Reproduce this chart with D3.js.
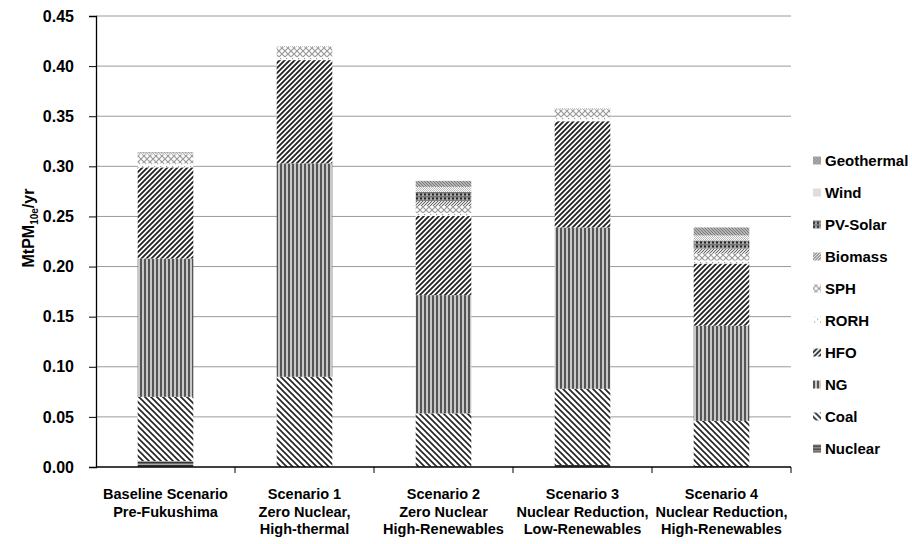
<!DOCTYPE html>
<html>
<head>
<meta charset="utf-8">
<script src="https://cdn.jsdelivr.net/npm/d3@7"></script>
<style>
  body { margin: 0; background: #fff; }
  text { font-family: "Liberation Sans", Arial, sans-serif; font-weight: bold; fill: #000; }
</style>
</head>
<body>
<div class="chart"></div>
<script>
// scenarios on the x axis (each label split in lines)
const scenarios = ["Baseline", "S1", "S2", "S3", "S4"];
const scenarioLabels = [
    ["Baseline Scenario", "Pre-Fukushima"],
    ["Scenario 1", "Zero Nuclear,", "High-thermal"],
    ["Scenario 2", "Zero Nuclear", "High-Renewables"],
    ["Scenario 3", "Nuclear Reduction,", "Low-Renewables"],
    ["Scenario 4", "Nuclear Reduction,", "High-Renewables"]
];

// stacked series, bottom to top (MtPM10e/yr per source)
const sources = ["Nuclear", "Coal", "NG", "HFO", "RORH", "SPH", "Biomass", "PV-Solar", "Wind", "Geothermal"];
const nuclear    = [0.006, 0.000, 0.0005, 0.002, 0.001];
const coal       = [0.064, 0.090, 0.053, 0.076, 0.045];
const ng         = [0.138, 0.213, 0.118, 0.161, 0.095];
const hfo        = [0.091, 0.103, 0.079, 0.106, 0.062];
const rorh       = [0.004, 0.003, 0.003, 0.004, 0.003];
const sph        = [0.009, 0.010, 0.007, 0.008, 0.007];
const biomass    = [0.000, 0.000, 0.005, 0.000, 0.005];
const pvSolar    = [0.000, 0.000, 0.009, 0.000, 0.008];
const wind       = [0.001, 0.001, 0.005, 0.001, 0.005];
const geothermal = [0.001, 0.000, 0.006, 0.000, 0.008];

const yTicks = [0, 0.05, 0.10, 0.15, 0.20, 0.25, 0.30, 0.35, 0.40, 0.45];

const seriesValues = [nuclear, coal, ng, hfo, rorh, sph, biomass, pvSolar, wind, geothermal];
const table = scenarios.map((s, i) => {
    const row = {scenario: s};
    sources.forEach((src, j) => row[src] = seriesValues[j][i]);
    return row;
});

const width = 912;
const height = 544;
const margin = {top: 16, right: 121, bottom: 77, left: 96};

const svg = d3.select(".chart")
    .append("svg")
    .attr("width", width)
    .attr("height", height);

// hatch patterns
const defs = svg.append("defs");
function pattern(id, size, draw, bg) {
    const p = defs.append("pattern")
        .attr("id", id)
        .attr("patternUnits", "userSpaceOnUse")
        .attr("width", size)
        .attr("height", size);
    p.append("rect").attr("width", size).attr("height", size).attr("fill", bg || "#fff");
    draw(p);
}
pattern("p-Nuclear", 3, p => {
    p.append("rect").attr("y", 0).attr("width", 3).attr("height", 1.5).attr("fill", "#333");
}, "#aaa");
pattern("p-Coal", 6, p => {
    p.append("path").attr("d", "M0,0 L6,6 M-3,3 L3,9 M3,-3 L9,3").attr("stroke", "#222").attr("stroke-width", 1.6);
});
pattern("p-NG", 4, p => {
    p.append("rect").attr("x", 0).attr("width", 2).attr("height", 4).attr("fill", "#555");
}, "#c8c8c8");
pattern("p-HFO", 5, p => {
    p.append("path").attr("d", "M0,5 L5,0 M-2.5,2.5 L2.5,-2.5 M2.5,7.5 L7.5,2.5").attr("stroke", "#222").attr("stroke-width", 1.8);
});
pattern("p-RORH", 6, p => {
    p.append("rect").attr("x", 1).attr("y", 1).attr("width", 1.2).attr("height", 1.2).attr("fill", "#999");
    p.append("rect").attr("x", 4).attr("y", 4).attr("width", 1.2).attr("height", 1.2).attr("fill", "#999");
});
pattern("p-SPH", 6, p => {
    p.append("path").attr("d", "M0,0 L6,6 M6,0 L0,6").attr("stroke", "#999").attr("stroke-width", 1.2);
});
pattern("p-Biomass", 3, p => {
    p.append("path").attr("d", "M0,3 L3,0 M-1.5,1.5 L1.5,-1.5 M1.5,4.5 L4.5,1.5").attr("stroke", "#666").attr("stroke-width", 1);
}, "#ddd");
pattern("p-PV-Solar", 4, p => {
    p.append("rect").attr("y", 0).attr("width", 4).attr("height", 1.5).attr("fill", "#777");
    p.append("rect").attr("x", 0).attr("y", 1.5).attr("width", 2).attr("height", 2).attr("fill", "#222");
}, "#aaa");
pattern("p-Wind", 2, p => {
    p.append("rect").attr("width", 1).attr("height", 1).attr("fill", "#bbb");
    p.append("rect").attr("x", 1).attr("y", 1).attr("width", 1).attr("height", 1).attr("fill", "#bbb");
});
pattern("p-Geothermal", 3, p => {
    p.append("path").attr("d", "M0,0 L3,3 M-1.5,1.5 L1.5,4.5 M1.5,-1.5 L4.5,1.5").attr("stroke", "#777").attr("stroke-width", 1.1);
}, "#ccc");

const x = d3.scaleBand()
    .domain(scenarios)
    .range([margin.left, width - margin.right])
    .paddingInner(0.6)
    .paddingOuter(0.3);

const y = d3.scaleLinear()
    .domain([0, 0.45])
    .range([height - margin.bottom, margin.top]);

// gridlines
svg.append("g")
    .selectAll("line")
    .data(yTicks.filter(d => d > 0))
    .join("line")
    .attr("x1", margin.left)
    .attr("x2", width - margin.right)
    .attr("y1", d => y(d))
    .attr("y2", d => y(d))
    .attr("stroke", "#9a9a9a")
    .attr("stroke-width", 1);

// stacked bars
const stack = d3.stack().keys(sources)(table);
svg.append("g")
    .selectAll("g")
    .data(stack)
    .join("g")
    .attr("fill", d => `url(#p-${d.key})`)
    .selectAll("rect")
    .data(d => d)
    .join("rect")
    .attr("x", d => x(d.data.scenario))
    .attr("width", x.bandwidth())
    .attr("y", d => y(d[1]))
    .attr("height", d => y(d[0]) - y(d[1]));

// y axis
const yAxis = svg.append("g")
    .attr("transform", `translate(${margin.left},0)`)
    .call(d3.axisLeft(y).tickValues(yTicks).tickFormat(d3.format(".2f")).tickSize(7).tickPadding(15));
yAxis.select(".domain").attr("stroke", "#000").attr("stroke-width", 1.3);
yAxis.selectAll(".tick line").attr("stroke", "#000");
yAxis.selectAll(".tick text").style("font-size", "16px").style("font-family", "Liberation Sans, Arial, sans-serif").style("font-weight", "bold");

// x axis: line + ticks at category boundaries
const x0 = margin.left;
const step = x.step();
svg.append("line")
    .attr("x1", margin.left).attr("x2", width - margin.right)
    .attr("y1", y(0)).attr("y2", y(0))
    .attr("stroke", "#000").attr("stroke-width", 1.3);
svg.append("g")
    .selectAll("line")
    .data(scenarios)
    .join("line")
    .attr("x1", (d, i) => x0 + step * (i + 1))
    .attr("x2", (d, i) => x0 + step * (i + 1))
    .attr("y1", y(0))
    .attr("y2", y(0) + 6)
    .attr("stroke", "#000");

// x labels
svg.append("g")
    .selectAll("text")
    .data(scenarios)
    .join("text")
    .attr("text-anchor", "middle")
    .style("font-size", "14.5px")
    .each(function(d, i) {
        const t = d3.select(this);
        scenarioLabels[i].forEach((line, k) => {
            t.append("tspan")
                .attr("x", x(d) + x.bandwidth() / 2)
                .attr("y", 499 + k * 17.5)
                .text(line);
        });
    });

// y title
const title = svg.append("text")
    .attr("transform", "translate(34,228) rotate(-90)")
    .attr("text-anchor", "middle")
    .style("font-size", "16px");
title.append("tspan").text("MtPM");
title.append("tspan").attr("dy", 4).style("font-size", "10px").text("10e");
title.append("tspan").attr("dy", -4).text("/yr");

// legend, top item first
const legendItems = sources.slice().reverse();
const legend = svg.append("g")
    .selectAll("g")
    .data(legendItems)
    .join("g")
    .attr("transform", (d, i) => `translate(813,${160.5 + i * 32})`);
legend.append("rect")
    .attr("x", 0)
    .attr("y", -4)
    .attr("width", 8)
    .attr("height", 8)
    .attr("fill", d => `url(#p-${d})`);
legend.append("text")
    .attr("x", 12)
    .attr("dy", "0.36em")
    .style("font-size", "15px")
    .text(d => d);
</script>
</body>
</html>
